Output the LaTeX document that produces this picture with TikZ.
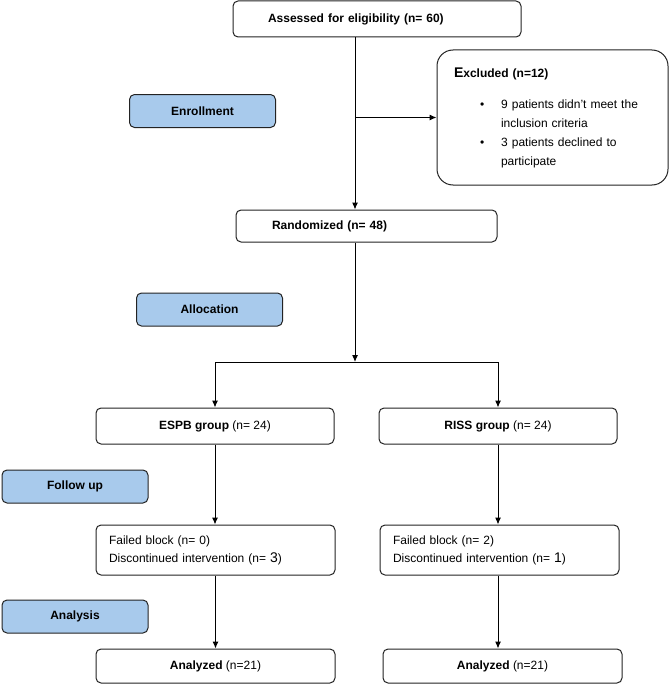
\documentclass[tikz,border=0pt]{standalone}
\usepackage{fontspec}
\setmainfont{Liberation Sans}
\usepackage{xcolor}
\usepackage{tikz}
\usetikzlibrary{arrows.meta}
\definecolor{myblue}{RGB}{168,202,236}
\definecolor{mygray}{RGB}{35,35,35}
\tikzstyle{arrow} = [line width=1pt,-{Latex[length=7pt,width=6pt]}]
\tikzstyle{box} = [draw=mygray, line width=1pt, rounded corners=5pt, fill=white, inner sep=0pt, align=center, font=\fontsize{12}{14}\selectfont]
\tikzstyle{phase} = [box, fill=myblue, font=\fontsize{12}{14}\selectfont\bfseries, minimum width=146pt, minimum height=33pt]
\tikzstyle{group} = [box, minimum width=238pt, minimum height=36pt]
\tikzstyle{fail} = [box, align=left, text width=213pt, inner xsep=13pt, minimum height=50pt]
\tikzstyle{topbox} = [box, align=left, inner xsep=35pt, font=\fontsize{12}{14}\selectfont\bfseries]

\begin{document}
\begin{tikzpicture}[x=1pt,y=-1pt]
            \useasboundingbox (0,0) rectangle (669,685);
            % Phases
            \draw (202.5,111) node[phase] (enroll) {Enrollment};
            \draw (209.5,309.5) node[phase] (alloc) {Allocation};
            \draw (75,486.5) node[phase] (follow) {Follow up};
            \draw (75,616.5) node[phase] (analysis) {Analysis};
            % Boxes
            \draw (377,19) node[topbox, text width=218pt, minimum height=36pt] (assess) {Assessed for eligibility (n= 60)};
            \draw (552.5,117.5) node[box, rounded corners=16pt, align=left, text width=197pt, inner xsep=17pt, minimum height=135pt] (excl) {\textbf{{\fontsize{14}{14}\selectfont E}xcluded (n=12)}\\[17pt]
                \hspace*{26pt}•\hspace{17pt}9 patients didn’t meet the\\[5pt]
                \hspace*{47pt}inclusion criteria\\[5pt]
                \hspace*{26pt}•\hspace{17pt}3 patients declined to\\[5pt]
                \hspace*{47pt}participate};
            \draw (366.5,226) node[topbox, inner xsep=36pt, text width=189pt, minimum height=32pt] (random) {Randomized (n= 48)};
            \draw (215,426) node[group] (espb) {\textbf{ESPB group} (n= 24)};
            \draw (498,426) node[group] (riss) {\textbf{RISS group} (n= 24)};
            \draw (215.5,550) node[fail] (fail1) {Failed block (n= 0)\\[4pt]Discontinued intervention (n= {\fontsize{14}{14}\selectfont 3})};
            \draw (499.5,550) node[fail] (fail2) {Failed block (n= 2)\\[4pt]Discontinued intervention (n= {\fontsize{14}{14}\selectfont 1})};
            \draw (215.5,666) node[group, minimum width=239pt, minimum height=34pt] (an1) {\textbf{Analyzed} (n=21)};
            \draw (502.5,666) node[group, minimum width=239pt, minimum height=34pt] (an2) {\textbf{Analyzed} (n=21)};
            \coordinate (trunk) at (355,0);
            \coordinate (split) at (355,362);
            % edges
            \draw[arrow] (assess.south -| trunk) -- (random.north -| trunk);
            \draw[arrow] (trunk |- excl.west) -- (excl.west);
            \draw[arrow] (random.south -| split) -- (split);
            \draw[line width=1pt] (espb.north |- split) -- (riss.north |- split);
            \draw[arrow] (espb.north |- split) -- (espb.north);
            \draw[arrow] (riss.north |- split) -- (riss.north);
            \draw[arrow] (espb) -- (espb |- fail1.north);
            \draw[arrow] (riss) -- (riss |- fail2.north);
            \draw[arrow] (fail1) -- (fail1 |- an1.north);
            \draw[arrow] (riss |- fail2.south) -- (riss |- an2.north);
        \end{tikzpicture}
\end{document}
